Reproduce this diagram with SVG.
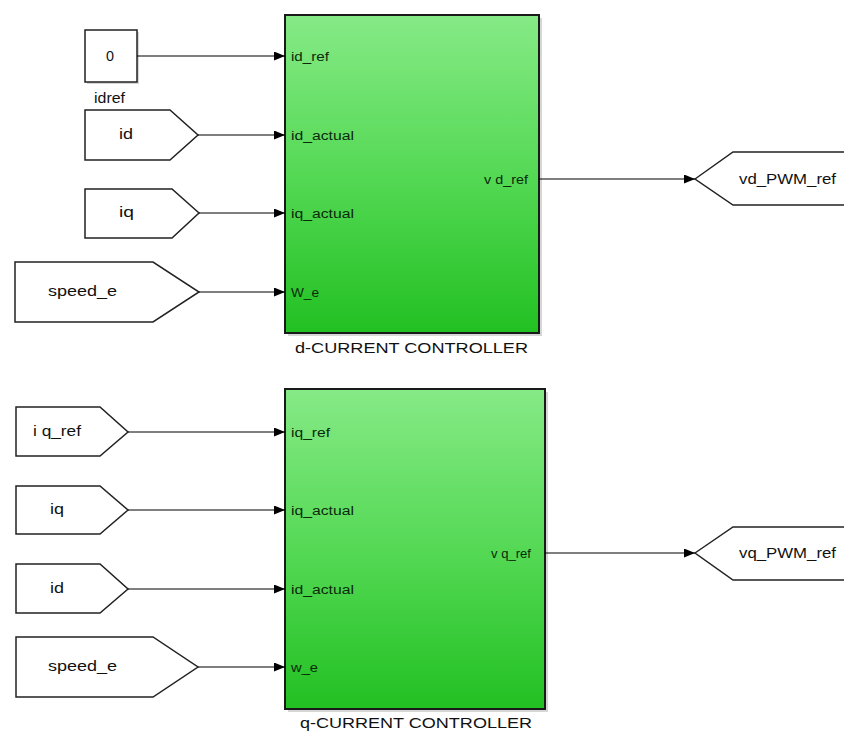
<svg xmlns="http://www.w3.org/2000/svg" width="844" height="736" viewBox="0 0 844 736">
  <defs>
    <linearGradient id="subsysFill" x1="0" y1="0" x2="0" y2="1">
      <stop offset="0" stop-color="#86ea86"/>
      <stop offset="0.5" stop-color="#55d955"/>
      <stop offset="1" stop-color="#22c022"/>
    </linearGradient>
    <marker id="arrow" markerWidth="11" markerHeight="9" refX="11" refY="4.5" orient="auto" markerUnits="userSpaceOnUse">
      <path d="M0,0 L11,4.5 L0,9 Z" fill="#000"/>
    </marker>
  </defs>
  <style>
    .blk { fill: #fff; stroke: #222; stroke-width: 1.5; }
    .sub { fill: url(#subsysFill); stroke: #1a1a1a; stroke-width: 2; }
    .shadow { fill: #bbb; stroke: none; opacity: 0.6; }
    .wire { fill: none; stroke: #000; stroke-width: 1.2; marker-end: url(#arrow); }
    .t { font-family: "Liberation Sans", Arial, sans-serif; font-size: 14px; fill: #111; }
    .p { font-family: "Liberation Sans", Arial, sans-serif; font-size: 12px; fill: #0a2a0a; }
  </style>
  <rect width="844" height="736" fill="#fff"/>

  <!-- upper controller: d axis -->
  <g id="const_idref">
    <rect class="shadow" x="87" y="32" width="52" height="52"/>
    <rect class="blk" x="85" y="30" width="52" height="52"/>
    <text class="t" x="106" y="61" textLength="8" lengthAdjust="spacingAndGlyphs">0</text>
    <text class="t" x="94" y="103" textLength="31" lengthAdjust="spacingAndGlyphs">idref</text>
  </g>
  <g id="from_id_1">
    <polygon class="blk" points="85,110 170,110 198,135 170,160 85,160"/>
    <text class="t" x="119" y="139" textLength="14" lengthAdjust="spacingAndGlyphs">id</text>
  </g>
  <g id="from_iq_1">
    <polygon class="blk" points="85,189 172,189 199,213 172,238 85,238"/>
    <text class="t" x="119" y="217" textLength="15" lengthAdjust="spacingAndGlyphs">iq</text>
  </g>
  <g id="from_speed_e_1">
    <polygon class="blk" points="15,262 153,262 199,292 153,322 15,322"/>
    <text class="t" x="48" y="296" textLength="69" lengthAdjust="spacingAndGlyphs">speed_e</text>
  </g>
  <g id="d_current_controller">
    <rect class="shadow" x="288" y="18" width="254" height="318"/>
    <rect class="sub" x="285" y="15" width="254" height="318"/>
    <text class="p" x="291" y="61" textLength="38" lengthAdjust="spacingAndGlyphs">id_ref</text>
    <text class="p" x="291" y="140" textLength="63" lengthAdjust="spacingAndGlyphs">id_actual</text>
    <text class="p" x="291" y="218" textLength="63" lengthAdjust="spacingAndGlyphs">iq_actual</text>
    <text class="p" x="291" y="297" textLength="28" lengthAdjust="spacingAndGlyphs">W_e</text>
    <text class="p" x="484" y="184" textLength="44" lengthAdjust="spacingAndGlyphs">v d_ref</text>
    <text class="t" x="295" y="353" textLength="233" lengthAdjust="spacingAndGlyphs">d-CURRENT CONTROLLER</text>
  </g>
  <g id="goto_vd_PWM_ref">
    <polygon class="blk" points="695,179 733,152 850,152 850,205 733,205"/>
    <text class="t" x="739" y="184" textLength="97" lengthAdjust="spacingAndGlyphs">vd_PWM_ref</text>
  </g>

  <!-- lower controller: q axis -->
  <g id="from_iq_ref">
    <polygon class="blk" points="16,407 100,407 128,432 100,456 16,456"/>
    <text class="t" x="33" y="436" textLength="48" lengthAdjust="spacingAndGlyphs">i q_ref</text>
  </g>
  <g id="from_iq_2">
    <polygon class="blk" points="16,486 100,486 128,510 100,534 16,534"/>
    <text class="t" x="50" y="514" textLength="14" lengthAdjust="spacingAndGlyphs">iq</text>
  </g>
  <g id="from_id_2">
    <polygon class="blk" points="16,564 100,564 128,589 100,613 16,613"/>
    <text class="t" x="50" y="593" textLength="14" lengthAdjust="spacingAndGlyphs">id</text>
  </g>
  <g id="from_speed_e_2">
    <polygon class="blk" points="16,637 153,637 198,667 153,697 16,697"/>
    <text class="t" x="48" y="671" textLength="69" lengthAdjust="spacingAndGlyphs">speed_e</text>
  </g>
  <g id="q_current_controller">
    <rect class="shadow" x="288" y="392" width="260" height="320"/>
    <rect class="sub" x="285" y="389" width="260" height="320"/>
    <text class="p" x="291" y="437" textLength="39" lengthAdjust="spacingAndGlyphs">iq_ref</text>
    <text class="p" x="291" y="515" textLength="63" lengthAdjust="spacingAndGlyphs">iq_actual</text>
    <text class="p" x="291" y="594" textLength="63" lengthAdjust="spacingAndGlyphs">id_actual</text>
    <text class="p" x="291" y="672" textLength="27" lengthAdjust="spacingAndGlyphs">w_e</text>
    <text class="p" x="491" y="558" textLength="40" lengthAdjust="spacingAndGlyphs">v q_ref</text>
    <text class="t" x="300" y="728" textLength="232" lengthAdjust="spacingAndGlyphs">q-CURRENT CONTROLLER</text>
  </g>
  <g id="goto_vq_PWM_ref">
    <polygon class="blk" points="695,553 733,527 850,527 850,580 733,580"/>
    <text class="t" x="739" y="558" textLength="97" lengthAdjust="spacingAndGlyphs">vq_PWM_ref</text>
  </g>

  <!-- signal lines -->
  <g id="connectors">
    <line class="wire" x1="137" y1="56" x2="285" y2="56"/>
    <line class="wire" x1="198" y1="135" x2="285" y2="135"/>
    <line class="wire" x1="199" y1="213" x2="285" y2="213"/>
    <line class="wire" x1="199" y1="292" x2="285" y2="292"/>
    <line class="wire" x1="539" y1="179" x2="695" y2="179"/>
    <line class="wire" x1="128" y1="432" x2="285" y2="432"/>
    <line class="wire" x1="128" y1="510" x2="285" y2="510"/>
    <line class="wire" x1="128" y1="589" x2="285" y2="589"/>
    <line class="wire" x1="198" y1="667" x2="285" y2="667"/>
    <line class="wire" x1="545" y1="553" x2="695" y2="553"/>
  </g>
</svg>
